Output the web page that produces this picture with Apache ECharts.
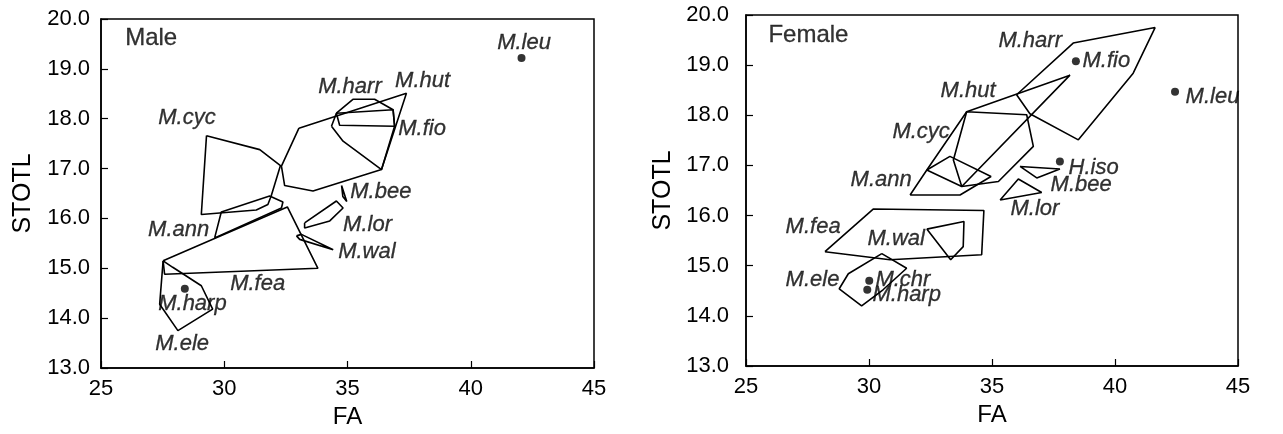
<!DOCTYPE html>
<html><head><meta charset="utf-8">
<script src="https://cdn.jsdelivr.net/npm/echarts@6/dist/echarts.min.js"></script>
<style>html,body{margin:0;padding:0;background:#fff}#c{width:1283px;height:434px}</style>
</head><body><div id="c"></div>
<script>
// ---------- axis definitions ----------
const xRange = [25, 45];
const yRange = [13, 20];
const panelTitles = ['Male', 'Female'];
const panelTitlePos = [[25.96, 19.62], [25.89, 19.59]];

// ---------- Male polygons (FA, STOTL) ----------
const maleCyc  = [[29.28,17.66],[31.44,17.38],[32.28,17.06],[31.91,16.46],[31.77,16.28],[31.30,16.17],[29.07,16.08]];
const maleAnn  = [[29.61,15.61],[29.88,16.13],[31.84,16.45],[32.38,16.33],[32.32,16.21]];
const maleFea  = [[27.52,15.15],[32.56,16.23],[33.80,15.00],[27.58,14.88]];
const maleEle  = [[27.52,15.15],[27.91,15.02],[29.07,14.65],[29.53,14.18],[28.12,13.75],[27.38,14.28]];
const maleHut  = [[33.03,17.81],[37.39,18.51],[36.38,16.98],[33.60,16.55],[32.45,16.66],[32.32,17.05]];
const maleHarr = [[34.55,18.11],[35.22,18.39],[36.10,18.39],[36.85,18.18],[36.91,17.85],[34.68,17.87]];
const maleFio  = [[34.35,17.85],[34.55,18.11],[36.85,18.18],[36.91,17.85],[36.38,16.98],[34.82,17.55]];
const maleBee  = [[34.76,16.66],[34.81,16.44],[34.97,16.34]];
const maleLor  = [[33.26,15.91],[34.55,16.35],[34.82,16.21],[34.28,15.95],[33.26,15.81]];
const maleWal  = [[32.93,15.65],[33.13,15.68],[34.42,15.37],[33.06,15.58]];
const malePoints = [[28.40,14.59],[42.06,19.22]];           // M.harp, M.leu

const maleLabelText = ['M.leu','M.harr','M.hut','M.fio','M.cyc','M.bee','M.lor','M.ann','M.wal','M.fea','M.harp','M.ele'];
const maleLabelPos  = [[41.05,19.52],[33.79,18.64],[36.91,18.76],[37.04,17.79],[27.30,18.01],[35.09,16.53],[34.80,15.88],[26.89,15.78],[34.60,15.32],[30.22,14.68],[27.30,14.28],[27.18,13.48]];

// ---------- Female polygons (FA, STOTL) ----------
const femHarr = [[36.00,18.41],[38.30,19.44],[41.63,19.75],[40.74,18.84],[38.51,17.51],[36.54,18.03]];
const femHut  = [[33.97,18.07],[38.17,18.80],[33.77,16.58],[33.43,17.11]];
const femCyc  = [[32.35,16.91],[33.97,18.07],[36.41,18.01],[36.68,17.38],[35.26,16.68],[33.77,16.58]];
const femAnn  = [[31.67,16.41],[32.35,16.91],[33.29,17.18],[34.96,16.78],[33.70,16.41]];
const femBee  = [[36.14,16.98],[37.76,16.93],[36.82,16.75]];
const femLor  = [[35.33,16.31],[36.07,16.73],[37.02,16.46]];
const femFea  = [[28.21,15.28],[30.17,16.13],[34.67,16.10],[34.58,15.22],[30.85,15.12]];
const femWal  = [[32.35,15.73],[33.86,15.88],[33.83,15.38],[33.32,15.12]];
const femEle  = [[30.52,15.24],[31.53,14.95],[30.57,14.52],[29.70,14.20],[28.79,14.54],[29.16,14.84]];
const femPoints = [[38.41,19.08],[42.44,18.47],[37.76,17.08],[30.01,14.70],[29.93,14.52]]; // M.fio, M.leu, H.iso, M.chr, M.harp

const femLabelText = ['M.harr','M.fio','M.leu','M.hut','M.cyc','M.ann','H.iso','M.bee','M.lor','M.fea','M.wal','M.ele','M.chr','M.harp'];
const femLabelPos  = [[35.24,19.49],[38.66,19.09],[42.85,18.37],[32.89,18.49],[30.93,17.67],[29.23,16.71],[38.09,16.96],[37.36,16.61],[35.73,16.13],[26.59,15.78],[29.92,15.53],[26.59,14.72],[30.24,14.72],[30.12,14.41]];

const malePolys = [maleCyc, maleAnn, maleFea, maleEle, maleHut, maleHarr, maleFio, maleBee, maleLor, maleWal];
const femPolys  = [femHarr, femHut, femCyc, femAnn, femBee, femLor, femFea, femWal, femEle];

// ---------- chart ----------
const FONT = '"Liberation Sans", Arial, Helvetica, sans-serif';
const chart = echarts.init(document.getElementById('c'), null, {renderer: 'canvas'});

function polySeries(poly, gi) {
  return {
    type: 'line', xAxisIndex: gi, yAxisIndex: gi,
    data: poly.concat([poly[0]]),
    symbol: 'none', showSymbol: false, silent: true,
    lineStyle: {color: '#000', width: 1.6}, z: 2
  };
}
function pointSeries(pts, gi) {
  return {
    type: 'scatter', xAxisIndex: gi, yAxisIndex: gi,
    data: pts, symbol: 'circle', symbolSize: 8, silent: true,
    itemStyle: {color: '#000'}, z: 3
  };
}
function labelSeries(texts, pos, gi, italic, size) {
  return {
    type: 'scatter', xAxisIndex: gi, yAxisIndex: gi, silent: true,
    symbolSize: 1, itemStyle: {color: 'rgba(0,0,0,0)'}, z: 4,
    data: texts.map((t, i) => ({name: t, value: pos[i]})),
    label: {
      show: true, position: 'right', distance: 0,
      formatter: p => p.name,
      color: '#000', fontFamily: FONT, fontSize: size,
      fontStyle: italic ? 'italic' : 'normal',
      textBorderColor: '#000', textBorderWidth: 0.3
    }
  };
}
function xAxis(gi) {
  return {
    type: 'value', gridIndex: gi, min: xRange[0], max: xRange[1], interval: 5,
    name: 'FA', nameLocation: 'middle', nameGap: 37,
    nameTextStyle: {color: '#000', fontFamily: FONT, fontSize: 24},
    axisLine: {show: true, lineStyle: {color: '#000', width: 1.5}},
    axisTick: {show: true, inside: true, length: 7, lineStyle: {color: '#000', width: 1.2}},
    axisLabel: {color: '#000', fontFamily: FONT, fontSize: 22, margin: 10},
    splitLine: {show: false}
  };
}
function yAxis(gi, margin, gap) {
  return {
    type: 'value', gridIndex: gi, min: yRange[0], max: yRange[1], interval: 1,
    name: 'STOTL', nameLocation: 'middle', nameGap: gap,
    nameTextStyle: {color: '#000', fontFamily: FONT, fontSize: 25},
    axisLine: {show: true, lineStyle: {color: '#000', width: 1.5}},
    axisTick: {show: true, inside: true, length: 7, lineStyle: {color: '#000', width: 1.2}},
    axisLabel: {color: '#000', fontFamily: FONT, fontSize: 22, margin: margin,
      formatter: v => v.toFixed(1)},
    splitLine: {show: false}
  };
}

const series = [];
malePolys.forEach(p => series.push(polySeries(p, 0)));
femPolys.forEach(p => series.push(polySeries(p, 1)));
series.push(pointSeries(malePoints, 0));
series.push(pointSeries(femPoints, 1));
series.push(labelSeries(maleLabelText, maleLabelPos, 0, true, 22));
series.push(labelSeries(femLabelText, femLabelPos, 1, true, 22));
series.push(labelSeries([panelTitles[0]], [panelTitlePos[0]], 0, false, 24));
series.push(labelSeries([panelTitles[1]], [panelTitlePos[1]], 1, false, 24));

chart.setOption({
  animation: false,
  backgroundColor: '#fff',
  grid: [
    {left: 101, top: 19, width: 493, height: 350, show: true, borderColor: '#000', borderWidth: 1.5, backgroundColor: 'transparent'},
    {left: 746, top: 15, width: 492, height: 351, show: true, borderColor: '#000', borderWidth: 1.5, backgroundColor: 'transparent'}
  ],
  xAxis: [xAxis(0), xAxis(1)],
  yAxis: [yAxis(0, 11, 65), yAxis(1, 17, 70)],
  series: series
});
</script></body></html>
